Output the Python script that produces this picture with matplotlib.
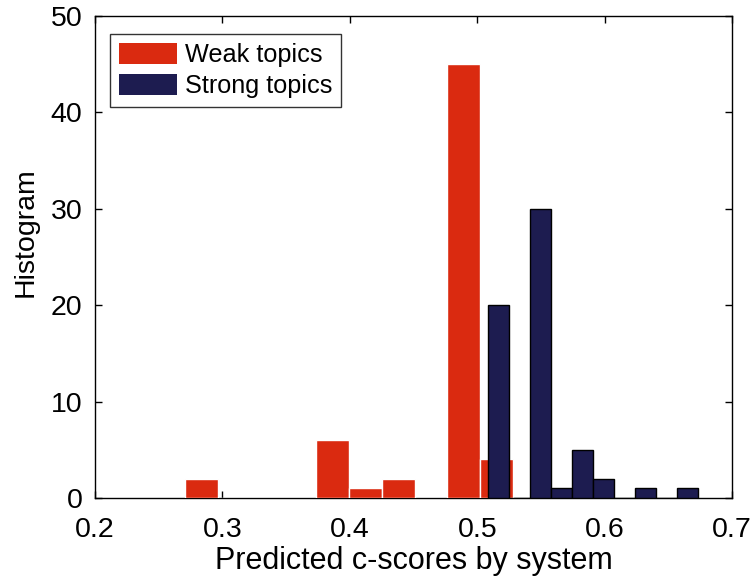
import matplotlib
matplotlib.use("Agg")
import matplotlib.pyplot as plt

# ---- data ----
red_bin_centers = [0.2838, 0.3095, 0.3352, 0.3609, 0.3866, 0.4123, 0.4380, 0.4637, 0.4894, 0.5151]
red_counts      = [2, 0, 0, 0, 6, 1, 2, 0, 45, 4]
red_bin_width = 0.0257

blue_bin_centers = [0.5169, 0.5334, 0.5499, 0.5663, 0.5828, 0.5992, 0.6157, 0.6322, 0.6486, 0.6651]
blue_counts      = [20, 0, 30, 1, 5, 2, 0, 1, 0, 1]
blue_bin_width = 0.01646

series_labels = ["Weak topics", "Strong topics"]
x_ticks = [0.2, 0.3, 0.4, 0.5, 0.6, 0.7]
y_ticks = [0, 10, 20, 30, 40, 50]

plt.rcParams['font.family'] = ['Liberation Sans', 'DejaVu Sans']

fig = plt.figure(figsize=(7.54, 5.82), dpi=100)
ax = fig.add_axes([0.126, 0.1443, 0.845, 0.8282])

red = '#da2a10'
navy = '#1d1c50'

ax.bar(red_bin_centers, red_counts, width=red_bin_width, color=red,
       edgecolor='white', linewidth=1.0, zorder=3, label=series_labels[0])
ax.bar(blue_bin_centers, blue_counts, width=blue_bin_width, color=navy,
       edgecolor='black', linewidth=1.0, zorder=4, label=series_labels[1])

ax.set_xlim(0.2, 0.7)
ax.set_ylim(0, 50)
ax.set_xticks(x_ticks)
ax.set_xticklabels([f"{t:g}" for t in x_ticks])
ax.set_yticks(y_ticks)
ax.set_axisbelow(True)
ax.tick_params(direction='in', top=True, right=True, length=5, width=1,
               labelsize=20.5, pad=9)
ax.tick_params(axis='x', pad=14)
for s in ax.spines.values():
    s.set_linewidth(1.0)

ax.set_xlabel("Predicted c-scores by system", fontsize=22, labelpad=2)
ax.set_ylabel("Histogram", fontsize=20.5)
ax.yaxis.set_label_coords(-0.088, 0.552)

leg = ax.legend(loc='upper left', bbox_to_anchor=(0.0235, 0.963), fontsize=18.2,
                frameon=True, fancybox=False, edgecolor='black',
                handlelength=2.3, handleheight=0.95, handletextpad=0.3,
                borderpad=0.35, labelspacing=0.25, borderaxespad=0)
leg.get_frame().set_linewidth(1.0)
for h in leg.legend_handles:
    h.set_edgecolor('none')

fig.savefig("out.png", dpi=100)
